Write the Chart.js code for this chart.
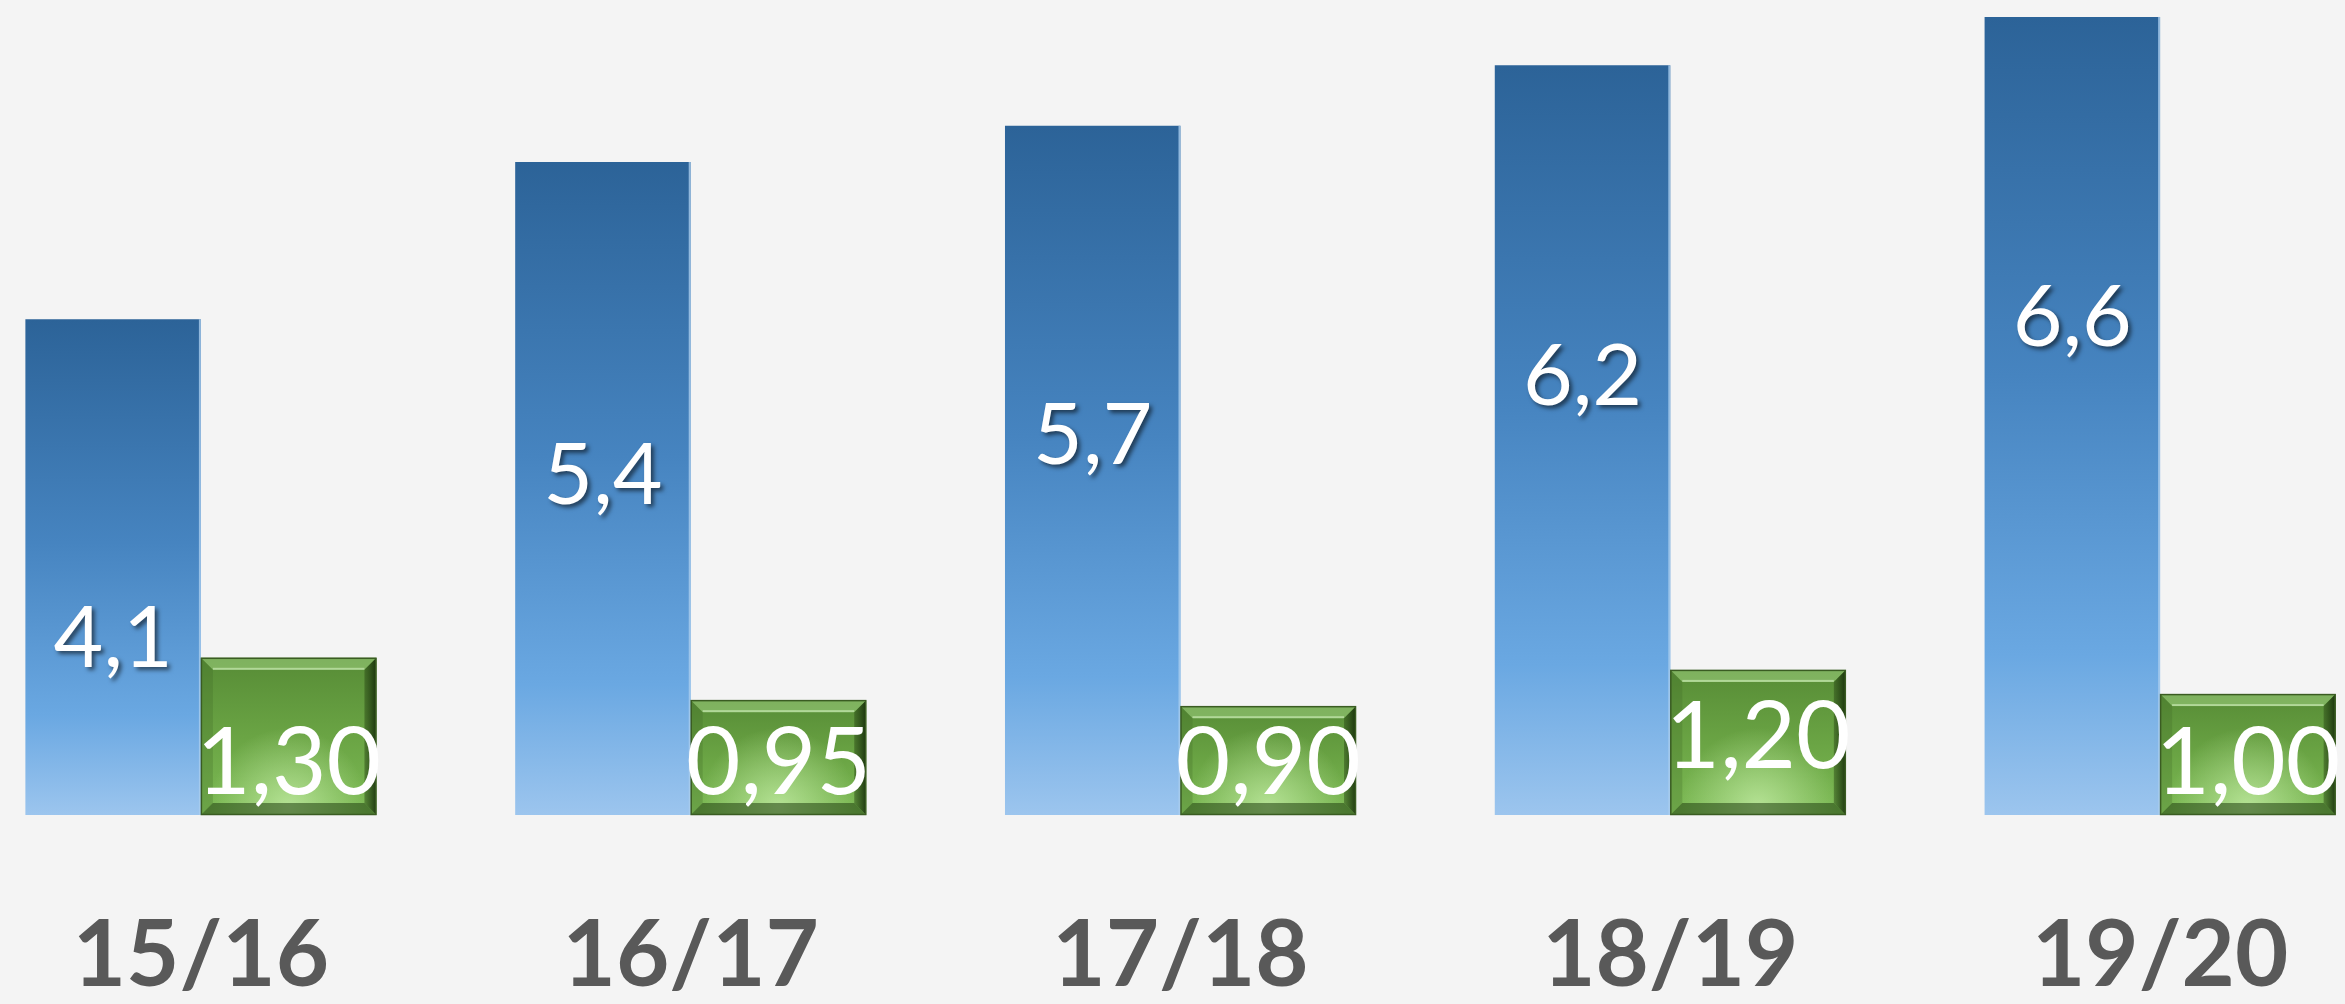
<!DOCTYPE html>
<html><head><meta charset="utf-8">
<script src="https://cdn.jsdelivr.net/npm/chart.js@4/dist/chart.umd.min.js"></script>
<style>html,body{margin:0;padding:0;background:#f4f4f4;overflow:hidden;}#wrap{width:2345px;height:1004px;overflow:hidden;position:relative;}#c{position:absolute;left:-44px;top:0;}</style>
</head><body><div id="wrap"><canvas id="c" width="2449" height="1004"></canvas></div>
<script>
const categories = ['15/16', '16/17', '17/18', '18/19', '19/20'];
const blueValues = [4.1, 5.4, 5.7, 6.2, 6.6];
const greenValues = [1.30, 0.95, 0.90, 1.20, 1.00];

const fmt = (v, d) => v.toFixed(d).replace('.', ',');

function blueFill(c) {
  const ch = c.chart;
  if (!ch.chartArea || !ch.scales.y) return '#4a88c2';
  const y = ch.scales.y;
  const top = y.getPixelForValue(c.raw), bot = y.getPixelForValue(0);
  const g = ch.ctx.createLinearGradient(0, top, 0, bot);
  g.addColorStop(0, '#2c6398');
  g.addColorStop(0.45, '#4684c0');
  g.addColorStop(0.8, '#6aa8e2');
  g.addColorStop(1, '#9cc5ee');
  return g;
}
function greenFill(c) {
  const ch = c.chart;
  if (!ch.chartArea || !ch.scales.y) return '#6aa444';
  const y = ch.scales.y;
  const top = y.getPixelForValue(c.raw), bot = y.getPixelForValue(0);
  const g = ch.ctx.createLinearGradient(0, top, 0, bot);
  g.addColorStop(0, '#578c36');
  g.addColorStop(0.5, '#6aa444');
  g.addColorStop(1, '#7dbb55');
  return g;
}

const decorPlugin = {
  id: 'decor',
  afterDatasetsDraw(chart) {
    const ctx = chart.ctx;
    const bMeta = chart.getDatasetMeta(0);
    bMeta.data.forEach((el) => {
      const p = el.getProps(['x', 'y', 'base', 'width'], true);
      ctx.save();
      ctx.fillStyle = 'rgba(170,205,238,0.8)';
      ctx.fillRect(p.x + p.width / 2 - 2, p.y, 2, p.base - p.y);
      ctx.restore();
    });

    const gMeta = chart.getDatasetMeta(1);
    gMeta.data.forEach((el) => {
      const p = el.getProps(['x', 'y', 'base', 'width'], true);
      const l = p.x - p.width / 2, r = p.x + p.width / 2, t = p.y, b = p.base;
      const bv = 12;
      ctx.save();
      ctx.beginPath(); ctx.rect(l, t, r - l, b - t); ctx.clip();
      const rg = ctx.createRadialGradient(p.x, b - 8, 0, p.x, b - 8, p.width * 0.45);
      rg.addColorStop(0, 'rgba(200,240,170,0.75)');
      rg.addColorStop(1, 'rgba(200,240,170,0)');
      ctx.fillStyle = rg; ctx.fillRect(l, t, r - l, b - t);
      const poly = (pts, fill) => { ctx.beginPath(); ctx.moveTo(pts[0][0], pts[0][1]); for (let i = 1; i < pts.length; i++) ctx.lineTo(pts[i][0], pts[i][1]); ctx.closePath(); ctx.fillStyle = fill; ctx.fill(); };
      poly([[l, t], [r, t], [r - bv, t + bv], [l + bv, t + bv]], 'rgba(160,210,130,0.55)');
      poly([[l, t], [l + bv, t + bv], [l + bv, b - bv], [l, b]], 'rgba(60,100,35,0.25)');
      const rgR = ctx.createLinearGradient(r - bv, 0, r, 0);
      rgR.addColorStop(0, 'rgba(40,70,20,0.45)');
      rgR.addColorStop(1, 'rgba(15,35,5,0.85)');
      poly([[r, t], [r, b], [r - bv, b - bv], [r - bv, t + bv]], rgR);
      poly([[l, b], [r, b], [r - bv, b - bv], [l + bv, b - bv]], 'rgba(35,65,18,0.55)');
      ctx.fillStyle = 'rgba(210,240,190,0.6)';
      ctx.fillRect(l + bv, t + bv - 2, r - l - 2 * bv, 2);
      ctx.restore();
      ctx.strokeStyle = '#3a5c22'; ctx.lineWidth = 1.5;
      ctx.strokeRect(l + 0.5, t + 0.5, r - l - 1, b - t - 1);
    });

    const blueDrop = [320, 314, 311, 312, 301];
    ctx.save();
    ctx.font = '86px Lato';
    ctx.textAlign = 'center';
    ctx.textBaseline = 'middle';
    ctx.fillStyle = '#ffffff';
    ctx.shadowColor = 'rgba(0,0,0,0.55)';
    ctx.shadowOffsetX = 3; ctx.shadowOffsetY = 3; ctx.shadowBlur = 4;
    bMeta.data.forEach((el, i) => {
      const p = el.getProps(['x', 'y'], true);
      ctx.fillText(fmt(blueValues[i], 1), p.x, p.y + blueDrop[i]);
    });
    ctx.restore();

    const lift = [0, 0, 0, 26, 0];
    ctx.save();
    ctx.font = '94px Lato';
    ctx.textAlign = 'center';
    ctx.textBaseline = 'middle';
    ctx.fillStyle = '#ffffff';
    gMeta.data.forEach((el, i) => {
      const p = el.getProps(['x', 'base'], true);
      ctx.fillText(fmt(greenValues[i], 2), p.x, p.base - 51 - lift[i]);
    });
    ctx.restore();
  }
};

new Chart(document.getElementById('c'), {
  type: 'bar',
  data: {
    labels: categories,
    datasets: [
      { data: blueValues, backgroundColor: blueFill, borderWidth: 0, categoryPercentage: 0.7167, barPercentage: 1 },
      { data: greenValues, backgroundColor: greenFill, borderWidth: 0, categoryPercentage: 0.7167, barPercentage: 1 }
    ]
  },
  options: {
    responsive: false,
    animation: false,
    devicePixelRatio: 1,
    layout: { padding: 0 },
    plugins: { legend: { display: false }, tooltip: { enabled: false } },
    scales: {
      x: {
        type: 'category',
        offset: true,
        grid: { display: false, drawTicks: false },
        border: { display: false },
        ticks: { font: { family: 'Lato', weight: 'bold', size: 92 }, color: '#595959', padding: 86, maxRotation: 0, minRotation: 0, autoSkip: false },
        afterFit(s) { s.height = 189; }
      },
      y: { display: false, min: 0, max: 6.74 }
    }
  },
  plugins: [decorPlugin]
});
</script></body></html>
